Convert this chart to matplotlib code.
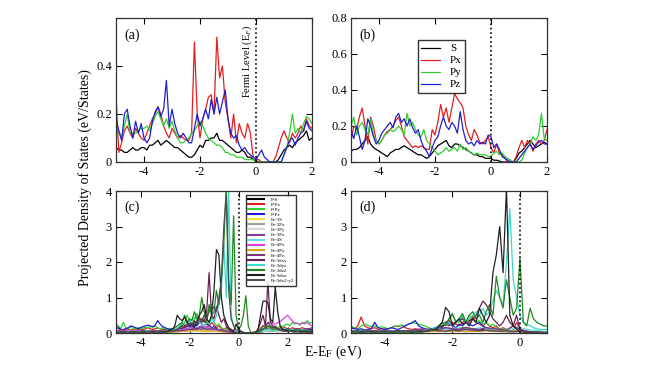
import numpy as np
import matplotlib
matplotlib.use('Agg')
import matplotlib.pyplot as plt

plt.rcParams['font.family'] = ['Liberation Serif', 'DejaVu Serif']
plt.rcParams['mathtext.fontset'] = 'stix'
plt.rcParams['axes.unicode_minus'] = False

# ---- data (energy grids in eV) ----
E_ab = np.round(np.arange(-5.0, 2.001, 0.1), 2)   # 71 points
E_c = np.round(np.arange(-5.0, 3.001, 0.1), 2)    # 81 points
E_c2 = np.round(np.arange(-5.0, 3.001, 0.25), 2)  # 33 points
E_d = np.round(np.arange(-5.0, 0.801, 0.1), 2)    # 59 points
E_d2 = np.round(np.arange(-5.0, 0.801, 0.2), 2)   # 30 points

# panel (a)
a_s = [0.06, 0.05, 0.05, 0.04, 0.04, 0.05, 0.06, 0.05, 0.05, 0.06,
       0.06, 0.05, 0.07, 0.07, 0.08, 0.09, 0.07, 0.08, 0.09, 0.08,
       0.07, 0.06, 0.06, 0.05, 0.04, 0.03, 0.02, 0.02, 0.03, 0.05,
       0.07, 0.06, 0.09, 0.09, 0.10, 0.10, 0.12, 0.09, 0.09, 0.08,
       0.07, 0.06, 0.05, 0.04, 0.04, 0.05, 0.04, 0.02, 0.02, 0.01,
       0.005, 0.0, 0.0, 0.0, 0.0, 0.0, 0.0, 0.0, 0.01, 0.03,
       0.05, 0.06, 0.07, 0.06, 0.08, 0.09, 0.10, 0.11, 0.13, 0.09, 0.10]
a_px = [0.28, 0.04, 0.08, 0.13, 0.15, 0.12, 0.10, 0.14, 0.12, 0.10,
        0.09, 0.12, 0.15, 0.18, 0.20, 0.23, 0.20, 0.15, 0.12, 0.10,
        0.14, 0.12, 0.10, 0.11, 0.10, 0.09, 0.09, 0.12, 0.50, 0.20,
        0.10, 0.18, 0.22, 0.27, 0.28, 0.20, 0.52, 0.35, 0.40, 0.25,
        0.18, 0.10, 0.20, 0.08, 0.16, 0.12, 0.10, 0.16, 0.12, 0.02,
        0.01, 0.01, 0.0, 0.0, 0.0, 0.0, 0.0, 0.02, 0.06, 0.10,
        0.13, 0.10, 0.08, 0.12, 0.10, 0.12, 0.15, 0.13, 0.18, 0.15, 0.14]
a_py = [0.15, 0.13, 0.10, 0.15, 0.20, 0.12, 0.12, 0.12, 0.13, 0.14,
        0.14, 0.15, 0.13, 0.16, 0.19, 0.21, 0.18, 0.15, 0.18, 0.14,
        0.17, 0.13, 0.10, 0.08, 0.08, 0.09, 0.10, 0.12, 0.13, 0.15,
        0.17, 0.15, 0.12, 0.10, 0.09, 0.08, 0.07, 0.07, 0.06, 0.04,
        0.04, 0.03, 0.03, 0.02, 0.02, 0.02, 0.01, 0.01, 0.01, 0.01,
        0.0, 0.0, 0.0, 0.0, 0.0, 0.0, 0.0, 0.0, 0.0, 0.0,
        0.03, 0.06, 0.12, 0.20, 0.12, 0.14, 0.12, 0.16, 0.19, 0.18, 0.16]
a_pz = [0.18, 0.13, 0.09, 0.20, 0.22, 0.15, 0.10, 0.17, 0.12, 0.16,
        0.10, 0.08, 0.10, 0.17, 0.21, 0.23, 0.19, 0.22, 0.34, 0.15,
        0.22, 0.16, 0.12, 0.10, 0.12, 0.10, 0.08, 0.08, 0.14, 0.20,
        0.15, 0.18, 0.22, 0.18, 0.26, 0.20, 0.27, 0.20, 0.25, 0.30,
        0.18, 0.12, 0.10, 0.11, 0.07, 0.05, 0.06, 0.04, 0.03, 0.02,
        0.01, 0.03, 0.05, 0.02, 0.01, 0.0, 0.0, 0.0, 0.0, 0.0,
        0.03, 0.06, 0.09, 0.10, 0.07, 0.10, 0.12, 0.13, 0.17, 0.14, 0.13]

# panel (b)
b_s = [0.06, 0.07, 0.07, 0.08, 0.10, 0.12, 0.14, 0.10, 0.08, 0.07,
       0.06, 0.05, 0.04, 0.03, 0.05, 0.06, 0.07, 0.07, 0.08, 0.09,
       0.08, 0.07, 0.06, 0.05, 0.04, 0.04, 0.03, 0.02, 0.03, 0.05,
       0.07, 0.09, 0.10, 0.11, 0.12, 0.09, 0.08, 0.10, 0.10, 0.09,
       0.08, 0.07, 0.06, 0.05, 0.04, 0.04, 0.03, 0.03, 0.02, 0.02,
       0.02, 0.01, 0.01, 0.005, 0.0, 0.0, 0.0, 0.0, 0.0, 0.02,
       0.05, 0.06, 0.08, 0.10, 0.12, 0.10, 0.08, 0.09, 0.10, 0.11, 0.10]
b_px = [0.12, 0.20, 0.18, 0.25, 0.30, 0.20, 0.10, 0.25, 0.20, 0.12,
        0.10, 0.12, 0.15, 0.17, 0.18, 0.20, 0.23, 0.25, 0.20, 0.14,
        0.12, 0.10, 0.08, 0.09, 0.08, 0.09, 0.08, 0.07, 0.07, 0.18,
        0.15, 0.22, 0.32, 0.25, 0.30, 0.22, 0.30, 0.38, 0.35, 0.33,
        0.30, 0.20, 0.15, 0.12, 0.18, 0.15, 0.11, 0.10, 0.12, 0.14,
        0.08, 0.05, 0.10, 0.05, 0.04, 0.02, 0.0, 0.0, 0.0, 0.03,
        0.08, 0.12, 0.08, 0.12, 0.10, 0.06, 0.10, 0.12, 0.10, 0.12, 0.18]
b_py = [0.20, 0.25, 0.15, 0.20, 0.22, 0.18, 0.15, 0.24, 0.15, 0.12,
        0.10, 0.12, 0.15, 0.16, 0.18, 0.17, 0.18, 0.20, 0.18, 0.15,
        0.27, 0.20, 0.22, 0.18, 0.15, 0.14, 0.18, 0.12, 0.10, 0.08,
        0.06, 0.04, 0.05, 0.06, 0.08, 0.06, 0.07, 0.08, 0.06, 0.10,
        0.07, 0.08, 0.06, 0.05, 0.04, 0.05, 0.04, 0.04, 0.04, 0.03,
        0.03, 0.05, 0.06, 0.04, 0.05, 0.03, 0.02, 0.01, 0.0, 0.0,
        0.0, 0.01, 0.05, 0.08, 0.10, 0.14, 0.12, 0.15, 0.27, 0.13, 0.12]
b_pz = [0.18, 0.13, 0.20, 0.14, 0.07, 0.12, 0.24, 0.20, 0.14, 0.10,
        0.12, 0.16, 0.18, 0.20, 0.22, 0.19, 0.25, 0.27, 0.22, 0.24,
        0.20, 0.24, 0.19, 0.16, 0.18, 0.12, 0.08, 0.06, 0.03, 0.08,
        0.12, 0.14, 0.20, 0.25, 0.20, 0.18, 0.22, 0.20, 0.16, 0.28,
        0.18, 0.12, 0.10, 0.11, 0.09, 0.12, 0.10, 0.11, 0.10, 0.15,
        0.14, 0.08, 0.10, 0.07, 0.03, 0.02, 0.01, 0.0, 0.0, 0.0,
        0.02, 0.04, 0.06, 0.08, 0.10, 0.07, 0.09, 0.11, 0.12, 0.10, 0.10]

# panel (c), fine grid curves
c_ps = [0.05, 0.06, 0.04, 0.05, 0.06, 0.05, 0.04, 0.05, 0.06, 0.05,
        0.05, 0.06, 0.07, 0.06, 0.05, 0.06, 0.05, 0.06, 0.07, 0.06,
        0.05, 0.06, 0.05, 0.04, 0.05, 0.06, 0.08, 0.10, 0.08, 0.07,
        0.08, 0.10, 0.12, 0.10, 0.15, 0.20, 0.12, 0.10, 0.12, 0.10,
        0.08, 0.06, 0.08, 0.05, 0.04, 0.05, 0.04, 0.03, 0.04, 0.02,
        0.02, 0.01, 0.01, 0.0, 0.0, 0.0, 0.0, 0.0, 0.01, 0.02,
        0.04, 0.05, 0.06, 0.05, 0.06, 0.05, 0.04, 0.05, 0.06, 0.05,
        0.06, 0.05, 0.06, 0.07, 0.06, 0.05, 0.06, 0.05, 0.06, 0.05, 0.05]
c_px = [0.30, 0.12, 0.08, 0.10, 0.12, 0.10, 0.08, 0.10, 0.12, 0.10,
        0.08, 0.10, 0.12, 0.15, 0.12, 0.10, 0.12, 0.14, 0.12, 0.10,
        0.10, 0.08, 0.10, 0.09, 0.08, 0.10, 0.12, 0.15, 0.18, 0.20,
        0.25, 0.30, 0.22, 0.35, 0.45, 0.30, 0.38, 0.25, 0.20, 0.30,
        0.22, 0.15, 0.20, 0.12, 0.10, 0.15, 0.12, 0.08, 0.06, 0.04,
        0.02, 0.01, 0.0, 0.0, 0.0, 0.0, 0.0, 0.0, 0.02, 0.05,
        0.08, 0.10, 0.12, 0.10, 0.15, 0.12, 0.10, 0.14, 0.18, 0.15,
        0.12, 0.10, 0.15, 0.12, 0.10, 0.12, 0.15, 0.12, 0.10, 0.12, 0.15]
c_py = [0.15, 0.20, 0.12, 0.30, 0.15, 0.12, 0.18, 0.12, 0.10, 0.15,
        0.12, 0.14, 0.16, 0.15, 0.18, 0.16, 0.20, 0.14, 0.12, 0.15,
        0.12, 0.10, 0.12, 0.10, 0.08, 0.12, 0.15, 0.20, 0.30, 0.50,
        0.35, 0.25, 0.40, 0.55, 0.30, 0.35, 0.50, 0.40, 0.30, 0.45,
        0.30, 0.20, 0.25, 0.15, 0.12, 0.10, 0.08, 0.06, 0.04, 0.02,
        0.02, 0.01, 0.0, 0.0, 0.0, 0.0, 0.0, 0.0, 0.03, 0.08,
        0.10, 0.12, 0.10, 0.15, 0.12, 0.18, 0.15, 0.20, 0.18, 0.22,
        0.25, 0.20, 0.30, 0.25, 0.28, 0.22, 0.30, 0.25, 0.35, 0.28, 0.30]
c_pz = [0.12, 0.15, 0.10, 0.08, 0.12, 0.15, 0.20, 0.18, 0.15, 0.12,
        0.15, 0.18, 0.20, 0.22, 0.20, 0.18, 0.22, 0.35, 0.25, 0.18,
        0.15, 0.12, 0.10, 0.12, 0.10, 0.08, 0.10, 0.12, 0.15, 0.18,
        0.20, 0.15, 0.25, 0.20, 0.30, 0.25, 0.20, 0.28, 0.22, 0.15,
        0.18, 0.12, 0.10, 0.08, 0.06, 0.05, 0.04, 0.03, 0.02, 0.01,
        0.01, 0.0, 0.0, 0.0, 0.0, 0.0, 0.0, 0.0, 0.02, 0.04,
        0.06, 0.08, 0.10, 0.08, 0.12, 0.10, 0.08, 0.10, 0.12, 0.10,
        0.12, 0.10, 0.08, 0.10, 0.12, 0.10, 0.08, 0.10, 0.12, 0.10, 0.10]
c_dxy = [0.02, 0.03, 0.02, 0.03, 0.02, 0.02, 0.03, 0.02, 0.03, 0.02,
         0.02, 0.03, 0.02, 0.02, 0.03, 0.02, 0.03, 0.02, 0.02, 0.03,
         0.03, 0.04, 0.05, 0.06, 0.08, 0.10, 0.15, 0.30, 0.20, 0.25,
         0.30, 0.20, 0.35, 0.25, 0.30, 0.40, 0.30, 0.60, 1.70, 0.50,
         0.40, 0.75, 0.50, 0.30, 0.40, 0.20, 0.10, 0.05, 0.02, 0.01,
         0.0, 0.0, 0.0, 0.0, 0.0, 0.0, 0.0, 0.02, 0.10, 0.30,
         0.50, 0.20, 1.45, 0.30, 0.20, 0.15, 0.10, 0.08, 0.06, 0.05,
         0.04, 0.05, 0.04, 0.03, 0.04, 0.03, 0.04, 0.03, 0.02, 0.03, 0.02]
c_dyz = [0.02, 0.03, 0.02, 0.02, 0.03, 0.02, 0.02, 0.03, 0.02, 0.02,
         0.03, 0.02, 0.02, 0.03, 0.02, 0.02, 0.03, 0.02, 0.02, 0.03,
         0.02, 0.03, 0.05, 0.08, 0.10, 0.15, 0.20, 0.30, 0.25, 0.35,
         0.30, 0.40, 0.45, 0.35, 0.30, 0.25, 0.20, 0.30, 0.25, 0.40,
         0.30, 0.50, 0.80, 1.20, 2.50, 1.00, 4.00, 0.50, 0.20, 0.05,
         0.02, 0.0, 0.0, 0.0, 0.0, 0.0, 0.0, 0.0, 0.02, 0.04,
         0.06, 0.08, 0.10, 0.08, 0.06, 0.08, 0.10, 0.08, 0.06, 0.05,
         0.06, 0.05, 0.04, 0.05, 0.06, 0.05, 0.04, 0.05, 0.04, 0.03, 0.04]
c_dz2 = [0.03, 0.02, 0.03, 0.02, 0.03, 0.02, 0.03, 0.02, 0.03, 0.02,
         0.03, 0.02, 0.03, 0.02, 0.03, 0.02, 0.03, 0.02, 0.03, 0.02,
         0.02, 0.03, 0.05, 0.10, 0.15, 0.20, 0.25, 0.30, 0.50, 0.30,
         0.40, 0.35, 0.60, 0.40, 0.50, 1.00, 0.60, 0.30, 0.80, 0.50,
         0.60, 1.20, 0.80, 1.50, 2.50, 4.20, 1.50, 0.80, 3.30, 0.50,
         0.10, 0.20, 0.50, 1.05, 0.20, 0.02, 0.0, 0.0, 0.02, 0.05,
         0.10, 0.15, 0.20, 0.15, 0.10, 0.12, 0.10, 0.08, 0.10, 0.08,
         0.10, 0.08, 0.06, 0.08, 0.10, 0.08, 0.06, 0.08, 0.06, 0.05, 0.06]
c_dxz = [0.02, 0.01, 0.02, 0.03, 0.02, 0.01, 0.02, 0.03, 0.02, 0.01,
         0.02, 0.03, 0.02, 0.01, 0.02, 0.03, 0.02, 0.01, 0.02, 0.03,
         0.05, 0.05, 0.08, 0.10, 0.20, 0.50, 0.40, 0.35, 0.45, 0.30,
         0.20, 0.25, 0.15, 0.30, 0.50, 0.60, 0.80, 0.40, 0.30, 0.50,
         1.20, 2.35, 2.20, 1.00, 0.50, 0.30, 0.15, 0.10, 0.05, 0.25,
         0.10, 0.05, 0.02, 0.0, 0.0, 0.0, 0.0, 0.02, 0.10, 0.50,
         0.90, 0.90, 0.85, 0.40, 0.30, 1.30, 0.60, 0.20, 0.10, 0.08,
         0.06, 0.05, 0.06, 0.05, 0.04, 0.05, 0.04, 0.05, 0.04, 0.03, 0.04]
c_dx2 = [0.01, 0.02, 0.01, 0.02, 0.01, 0.02, 0.01, 0.02, 0.01, 0.02,
         0.01, 0.02, 0.01, 0.02, 0.01, 0.02, 0.01, 0.02, 0.01, 0.02,
         0.02, 0.03, 0.04, 0.05, 0.08, 0.10, 0.15, 0.20, 0.15, 0.20,
         0.25, 0.20, 0.30, 0.25, 0.40, 0.30, 0.50, 0.40, 0.60, 0.80,
         0.70, 0.60, 1.00, 1.50, 3.00, 3.90, 1.20, 0.40, 0.20, 0.10,
         0.05, 0.02, 0.0, 0.0, 0.0, 0.0, 0.0, 0.01, 0.05, 0.10,
         0.20, 0.15, 0.30, 0.20, 0.15, 0.20, 0.10, 0.08, 0.06, 0.05,
         0.04, 0.05, 0.04, 0.03, 0.04, 0.03, 0.02, 0.03, 0.02, 0.02, 0.02]

# panel (c), coarse grid curves (small contributions)
c_fe3s = [0.03, 0.02, 0.03, 0.02, 0.03, 0.02, 0.03, 0.04, 0.03, 0.02, 0.03,
          0.05, 0.04, 0.06, 0.05, 0.04, 0.06, 0.05, 0.03, 0.02, 0.0, 0.0,
          0.0, 0.02, 0.05, 0.08, 0.10, 0.06, 0.05, 0.04, 0.05, 0.04, 0.03]
c_fe3px = [0.02, 0.03, 0.02, 0.03, 0.04, 0.03, 0.02, 0.03, 0.04, 0.03, 0.05,
           0.06, 0.08, 0.06, 0.10, 0.08, 0.06, 0.05, 0.03, 0.02, 0.0, 0.0,
           0.0, 0.03, 0.06, 0.05, 0.08, 0.06, 0.05, 0.06, 0.04, 0.05, 0.04]
c_fe3py = [0.03, 0.02, 0.03, 0.04, 0.03, 0.02, 0.03, 0.02, 0.03, 0.04, 0.03,
           0.05, 0.06, 0.05, 0.08, 0.06, 0.05, 0.04, 0.03, 0.01, 0.0, 0.0,
           0.0, 0.02, 0.04, 0.06, 0.05, 0.04, 0.05, 0.04, 0.03, 0.04, 0.03]
c_fe3pz = [0.04, 0.03, 0.05, 0.04, 0.03, 0.05, 0.04, 0.06, 0.05, 0.04, 0.06,
           0.10, 0.12, 0.15, 0.10, 0.20, 0.12, 0.08, 0.05, 0.02, 0.0, 0.0,
           0.0, 0.04, 0.10, 0.15, 0.12, 0.10, 0.08, 0.10, 0.08, 0.06, 0.05]
c_fe4s = [0.05, 0.04, 0.06, 0.05, 0.04, 0.06, 0.05, 0.04, 0.05, 0.06, 0.08,
          0.10, 0.12, 0.15, 0.20, 0.12, 0.10, 0.08, 0.05, 0.02, 0.0, 0.0,
          0.0, 0.03, 0.08, 0.10, 0.08, 0.12, 0.10, 0.08, 0.10, 0.08, 0.06]
c_fe4px = [0.05, 0.08, 0.05, 0.06, 0.05, 0.04, 0.06, 0.05, 0.04, 0.05, 0.08,
           0.10, 0.15, 0.12, 0.20, 0.15, 0.10, 0.08, 0.05, 0.02, 0.0, 0.0,
           0.0, 0.05, 0.20, 0.30, 0.25, 0.35, 0.50, 0.30, 0.25, 0.30, 0.20]
c_fe4py = [0.03, 0.02, 0.03, 0.04, 0.03, 0.02, 0.03, 0.04, 0.03, 0.02, 0.04,
           0.05, 0.06, 0.08, 0.06, 0.05, 0.06, 0.04, 0.03, 0.01, 0.0, 0.0,
           0.0, 0.05, 0.20, 0.15, 0.10, 0.08, 0.06, 0.05, 0.06, 0.05, 0.04]
c_fe4pz = [0.04, 0.05, 0.04, 0.03, 0.05, 0.04, 0.06, 0.05, 0.04, 0.05, 0.06,
           0.08, 0.10, 0.12, 0.15, 0.10, 0.12, 0.08, 0.04, 0.02, 0.0, 0.0,
           0.0, 0.03, 0.12, 0.20, 0.15, 0.10, 0.08, 0.06, 0.08, 0.06, 0.05]

# panel (d), fine grid curves
d_ps = [0.06, 0.05, 0.06, 0.07, 0.06, 0.05, 0.06, 0.07, 0.06, 0.05,
        0.06, 0.05, 0.06, 0.07, 0.06, 0.05, 0.06, 0.05, 0.06, 0.07,
        0.06, 0.05, 0.06, 0.05, 0.06, 0.08, 0.10, 0.12, 0.10, 0.08,
        0.10, 0.12, 0.10, 0.15, 0.12, 0.10, 0.12, 0.10, 0.08, 0.10,
        0.08, 0.06, 0.05, 0.06, 0.05, 0.04, 0.05, 0.03, 0.02, 0.02,
        0.01, 0.01, 0.01, 0.0, 0.0, 0.0, 0.0, 0.0, 0.0]
d_px = [0.15, 0.12, 0.20, 0.45, 0.20, 0.15, 0.12, 0.15, 0.10, 0.12,
        0.10, 0.12, 0.15, 0.20, 0.18, 0.22, 0.15, 0.12, 0.10, 0.12,
        0.10, 0.12, 0.10, 0.08, 0.10, 0.12, 0.15, 0.20, 0.25, 0.20,
        0.30, 0.25, 0.20, 0.30, 0.35, 0.30, 0.47, 0.30, 0.25, 0.20,
        0.30, 0.20, 0.15, 0.20, 0.10, 0.15, 0.10, 0.05, 0.08, 0.30,
        0.10, 0.05, 0.03, 0.02, 0.02, 0.01, 0.01, 0.01, 0.01]
d_py = [0.18, 0.15, 0.12, 0.20, 0.25, 0.22, 0.18, 0.20, 0.15, 0.18,
        0.15, 0.12, 0.15, 0.18, 0.20, 0.22, 0.20, 0.25, 0.30, 0.28,
        0.25, 0.22, 0.20, 0.15, 0.12, 0.15, 0.20, 0.30, 0.25, 0.40,
        0.50, 0.35, 0.30, 0.45, 0.30, 0.50, 0.40, 0.30, 0.35, 0.25,
        0.30, 0.20, 0.25, 0.15, 0.10, 0.12, 0.10, 0.08, 0.06, 0.05,
        0.04, 0.03, 0.02, 0.02, 0.01, 0.01, 0.01, 0.01, 0.01]
d_pz = [0.15, 0.12, 0.10, 0.12, 0.08, 0.10, 0.12, 0.30, 0.15, 0.12,
        0.10, 0.12, 0.15, 0.12, 0.10, 0.15, 0.20, 0.25, 0.28, 0.35,
        0.20, 0.15, 0.12, 0.10, 0.12, 0.15, 0.20, 0.15, 0.30, 0.25,
        0.20, 0.15, 0.25, 0.20, 0.30, 0.25, 0.20, 0.25, 0.30, 0.20,
        0.15, 0.10, 0.12, 0.08, 0.06, 0.05, 0.04, 0.03, 0.02, 0.02,
        0.01, 0.01, 0.01, 0.0, 0.0, 0.0, 0.0, 0.0, 0.0]
d_dxy = [0.02, 0.03, 0.02, 0.03, 0.02, 0.03, 0.02, 0.03, 0.02, 0.03,
         0.02, 0.03, 0.02, 0.03, 0.02, 0.03, 0.02, 0.03, 0.02, 0.03,
         0.02, 0.03, 0.05, 0.06, 0.08, 0.10, 0.15, 0.20, 0.30, 0.35,
         0.25, 0.30, 0.35, 0.40, 0.30, 0.35, 0.40, 0.50, 0.70, 0.90,
         0.80, 0.60, 0.40, 0.30, 0.20, 0.30, 0.50, 0.30, 0.20, 0.50,
         0.10, 0.05, 0.03, 0.02, 0.02, 0.01, 0.01, 0.01, 0.01]
d_dyz = [0.03, 0.02, 0.03, 0.02, 0.03, 0.02, 0.03, 0.02, 0.03, 0.02,
         0.03, 0.02, 0.03, 0.02, 0.03, 0.02, 0.03, 0.02, 0.03, 0.02,
         0.03, 0.04, 0.05, 0.06, 0.10, 0.15, 0.20, 0.30, 0.25, 0.30,
         0.20, 0.30, 0.35, 0.50, 0.30, 0.40, 0.50, 0.60, 0.50, 0.70,
         0.50, 0.60, 0.90, 1.20, 1.00, 0.80, 2.00, 3.50, 1.50, 1.00,
         0.50, 0.30, 0.25, 0.20, 0.15, 0.12, 0.10, 0.10, 0.10]
d_dz2 = [0.02, 0.03, 0.02, 0.03, 0.02, 0.03, 0.02, 0.03, 0.02, 0.03,
         0.02, 0.03, 0.02, 0.03, 0.02, 0.03, 0.02, 0.03, 0.02, 0.03,
         0.02, 0.03, 0.05, 0.08, 0.10, 0.12, 0.15, 0.30, 0.20, 0.40,
         0.55, 0.30, 0.40, 0.55, 0.30, 0.50, 0.60, 0.40, 0.50, 0.30,
         0.60, 0.80, 0.50, 1.60, 1.00, 0.70, 1.50, 1.00, 0.50, 0.70,
         2.10, 0.30, 0.20, 0.70, 0.40, 0.30, 0.25, 0.20, 0.20]
d_dxz = [0.05, 0.04, 0.05, 0.03, 0.04, 0.05, 0.04, 0.03, 0.04, 0.05,
         0.04, 0.05, 0.04, 0.03, 0.05, 0.04, 0.05, 0.04, 0.03, 0.04,
         0.05, 0.04, 0.05, 0.06, 0.08, 0.10, 0.20, 0.30, 0.72, 0.60,
         0.20, 0.30, 0.40, 0.25, 0.30, 0.20, 0.40, 0.30, 0.70, 0.50,
         0.30, 0.50, 1.70, 2.20, 3.00, 1.70, 4.10, 0.50, 0.20, 0.10,
         0.05, 0.03, 0.02, 0.02, 0.01, 0.02, 0.01, 0.01, 0.01]

# panel (d), coarse grid curves
d_fe3s = [0.02, 0.03, 0.02, 0.03, 0.02, 0.03, 0.02, 0.03, 0.04, 0.03,
          0.05, 0.04, 0.06, 0.05, 0.08, 0.06, 0.05, 0.04, 0.06, 0.05,
          0.08, 0.06, 0.05, 0.04, 0.03, 0.02, 0.02, 0.01, 0.01, 0.01]
d_fe3pz = [0.04, 0.05, 0.04, 0.06, 0.05, 0.04, 0.05, 0.06, 0.05, 0.08,
           0.10, 0.08, 0.12, 0.10, 0.15, 0.12, 0.10, 0.15, 0.12, 0.10,
           0.15, 0.12, 0.10, 0.08, 0.20, 0.10, 0.05, 0.03, 0.02, 0.02]
d_fe4s = [0.05, 0.06, 0.05, 0.04, 0.06, 0.05, 0.06, 0.05, 0.06, 0.08,
          0.06, 0.10, 0.08, 0.12, 0.10, 0.12, 0.15, 0.12, 0.10, 0.15,
          0.12, 0.10, 0.08, 0.10, 0.12, 0.15, 0.10, 0.08, 0.06, 0.05]
d_fe4px = [0.03, 0.04, 0.03, 0.05, 0.04, 0.03, 0.04, 0.05, 0.04, 0.05,
           0.06, 0.05, 0.08, 0.06, 0.05, 0.08, 0.06, 0.10, 0.08, 0.06,
           0.08, 0.06, 0.05, 0.06, 0.04, 0.05, 0.03, 0.02, 0.02, 0.01]
d_fe4py = [0.02, 0.03, 0.02, 0.03, 0.02, 0.03, 0.02, 0.03, 0.02, 0.03,
           0.04, 0.03, 0.04, 0.05, 0.04, 0.05, 0.06, 0.05, 0.04, 0.05,
           0.06, 0.05, 0.04, 0.05, 0.06, 0.04, 0.03, 0.02, 0.02, 0.01]

labels_c = ['P-S', 'P-Px', 'P-Py', 'P-Pz', 'Fe-3S', 'Fe-3Px', 'Fe-3Py',
            'Fe-3Pz', 'Fe-4S', 'Fe-4Px', 'Fe-4Py', 'Fe-4Pz', 'Fe-3dxy',
            'Fe-3dyz', 'Fe-3dz2', 'Fe-3dxz', 'Fe-3dx2-y2']
colors_c = ['black', '#e02020', '#30d030', '#2020d0', '#f0e040', '#a0a0a0',
            '#d8d8d8', '#8a3c9a', '#60e0e0', '#e040e0', '#e0a020', '#7a3a7a',
            '#6a2050', '#40d8c8', '#208a20', '#202020', '#505050']

orb_labels = ['S', 'Px', 'Py', 'Pz']
orb_colors = ['black', '#e02020', '#30d030', '#2020d0']


def style_axes(ax, xlim, ylim, xticks, yticks, yticklabels=None):
    ax.set_xlim(*xlim)
    ax.set_ylim(*ylim)
    ax.set_xticks(xticks)
    ax.set_yticks(yticks)
    if yticklabels is not None:
        ax.set_yticklabels(yticklabels)
    ax.tick_params(direction='in', top=True, right=True, length=4,
                   width=0.8, labelsize=9, pad=3)
    for sp in ax.spines.values():
        sp.set_linewidth(0.9)
        sp.set_color('#333333')
    ax.axvline(0, color='black', ls=':', lw=1.2)


fig = plt.figure(figsize=(6.54, 3.82), dpi=100)
W, H = 654.0, 382.0
ax_a = fig.add_axes([116 / W, 1 - 162 / H, 196 / W, 144 / H])
ax_b = fig.add_axes([351 / W, 1 - 162 / H, 196 / W, 144 / H])
ax_c = fig.add_axes([116 / W, 1 - 333 / H, 196 / W, 142 / H])
ax_d = fig.add_axes([351 / W, 1 - 333 / H, 196 / W, 142 / H])

for vals, col in zip([a_s, a_px, a_py, a_pz], orb_colors):
    ax_a.plot(E_ab, vals, color=col, lw=0.9)
for vals, col, lab in zip([b_s, b_px, b_py, b_pz], orb_colors, orb_labels):
    ax_b.plot(E_ab, vals, color=col, lw=0.9, label=lab)

# panel (c): curves in legend order
c_series = [(E_c, c_ps), (E_c, c_px), (E_c, c_py), (E_c, c_pz),
            (E_c2, c_fe3s), (E_c2, c_fe3px), (E_c2, c_fe3py), (E_c2, c_fe3pz),
            (E_c2, c_fe4s), (E_c2, c_fe4px), (E_c2, c_fe4py), (E_c2, c_fe4pz),
            (E_c, c_dxy), (E_c, c_dyz), (E_c, c_dz2), (E_c, c_dxz),
            (E_c, c_dx2)]
for (x, vals), col, lab in zip(c_series, colors_c, labels_c):
    ax_c.plot(x, vals, color=col, lw=0.9, label=lab)

d_series = [(E_d, d_ps), (E_d, d_px), (E_d, d_py), (E_d, d_pz),
            (E_d2, d_fe3s), (E_d2, d_fe3s), (E_d2, d_fe3s), (E_d2, d_fe3pz),
            (E_d2, d_fe4s), (E_d2, d_fe4px), (E_d2, d_fe4py), (E_d2, d_fe3pz),
            (E_d, d_dxy), (E_d, d_dyz), (E_d, d_dz2), (E_d, d_dxz),
            (E_d2, d_fe4px)]
for (x, vals), col in zip(d_series, colors_c):
    ax_d.plot(x, vals, color=col, lw=0.9)

style_axes(ax_a, (-5, 2), (0, 0.6), [-4, -2, 0, 2], [0, 0.2, 0.4, 0.6],
           ['0', '0.2', '0.4', ''])
style_axes(ax_b, (-5, 2), (0, 0.8), [-4, -2, 0, 2], [0, 0.2, 0.4, 0.6, 0.8],
           ['0', '0.2', '0.4', '0.6', '0.8'])
style_axes(ax_c, (-5, 3), (0, 4), [-4, -2, 0, 2], [0, 1, 2, 3, 4])
style_axes(ax_d, (-5, 0.8), (0, 4), [-4, -2, 0], [0, 1, 2, 3, 4])

for ax, tag in zip([ax_a, ax_b, ax_c, ax_d], ['(a)', '(b)', '(c)', '(d)']):
    ax.text(0.045, 0.93, tag, transform=ax.transAxes, fontsize=10,
            va='top', ha='left')

ax_a.text(-0.33, 0.42, 'Fermi Level (E$_F$)', rotation=90, fontsize=7.5,
          ha='center', va='center')

ax_b.legend(loc='upper left', bbox_to_anchor=(0.34, 0.845), fontsize=8,
            frameon=True, fancybox=False, edgecolor='black',
            handlelength=1.7, handletextpad=0.9, labelspacing=0.2,
            borderpad=0.3, borderaxespad=0)
leg_c = ax_c.legend(loc='upper left', bbox_to_anchor=(0.663, 0.975),
                    fontsize=3.6, frameon=True, fancybox=False,
                    edgecolor='black', handlelength=3.2, handletextpad=1.2,
                    labelspacing=0.12, borderpad=0.5, borderaxespad=0)
for ln in leg_c.get_lines():
    ln.set_linewidth(1.5)

fig.text(85 / W, 1 - 178 / H, 'Projected Density of States (eV/States)',
         rotation=90, fontsize=10, ha='center', va='center')
fig.text(333 / W, 1 - 352 / H, r'E-E$_\mathrm{F}$ (eV)', fontsize=10,
         ha='center', va='center')

fig.savefig('out.png', dpi=100)
